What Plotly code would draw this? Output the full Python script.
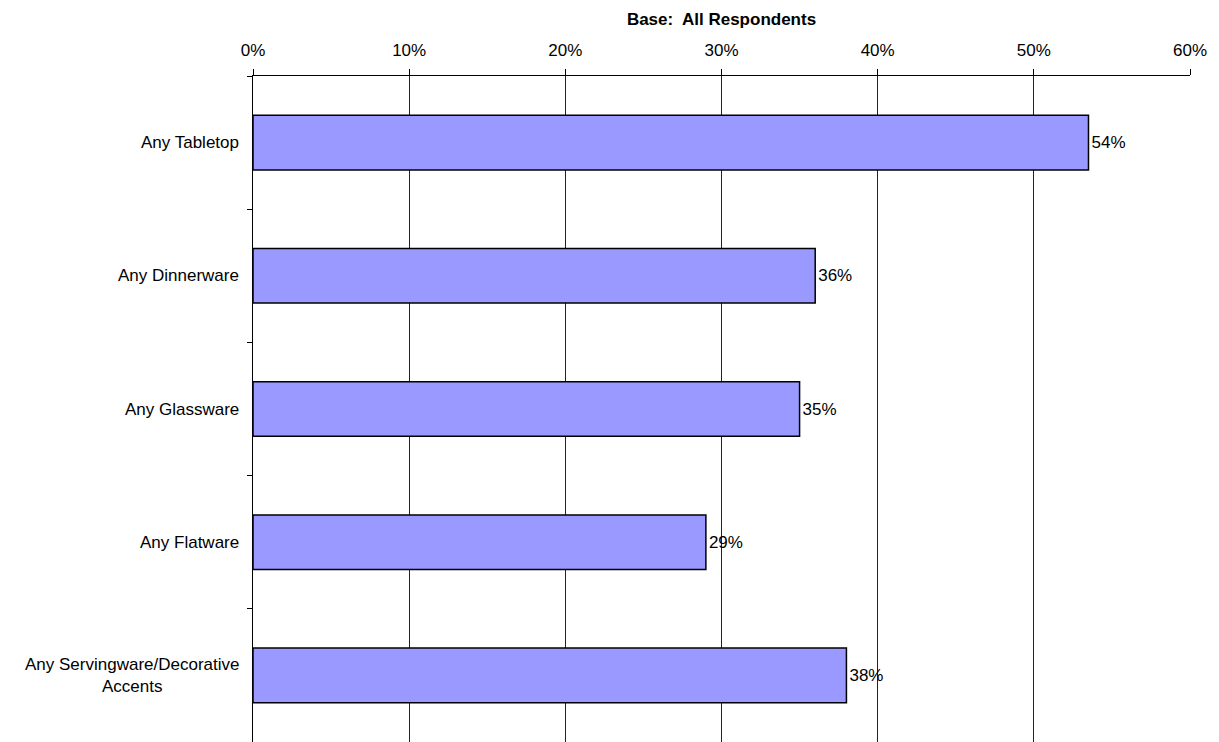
import plotly.graph_objects as go

categories = ["Any Tabletop", "Any Dinnerware", "Any Glassware", "Any Flatware",
              "Any Servingware/Decorative<br>Accents"]
values = [53.5, 36, 35, 29, 38]
labels = ["54%", "36%", "35%", "29%", "38%"]
tick_vals = [0, 10, 20, 30, 40, 50, 60]
tick_text = ["0%", "10%", "20%", "30%", "40%", "50%", "60%"]

FONT = "Liberation Sans, Arial"
FS = 17

fig = go.Figure(go.Bar(
    x=values, y=categories, orientation="h",
    marker=dict(color="#9999FF", line=dict(color="#000000", width=1.5)),
    width=0.41,
    text=labels, textposition="outside", cliponaxis=False,
    textfont=dict(family=FONT, size=FS, color="#000"),
))

# category labels as centred multi-line annotations beside the axis
for c in categories:
    fig.add_annotation(x=0, xref="paper", y=c, yref="y", text=c, showarrow=False,
                       xanchor="right", yanchor="middle", align="center", xshift=-12,
                       font=dict(family=FONT, size=FS, color="#000"))

# page body has an 8px default margin, so the figure is offset by 8px
fig.update_layout(
    width=1211, height=734,
    margin=dict(l=245, r=29, t=68, b=0),
    paper_bgcolor="white", plot_bgcolor="white",
    showlegend=False,
    font=dict(family=FONT, size=FS, color="#000"),
    title=dict(text="<b>Base:&nbsp; All Respondents</b>", x=0.5, xref="paper", xanchor="center",
               y=1 - 11 / 734, yanchor="middle",
               font=dict(family=FONT, size=FS, color="#000")),
    xaxis=dict(side="top", range=[0, 60], tickvals=tick_vals, ticktext=tick_text,
               showgrid=True, gridcolor="#222", gridwidth=1,
               showline=True, linecolor="#000", linewidth=1,
               ticks="outside", ticklen=6, tickcolor="#000", ticklabelstandoff=6,
               zeroline=False, fixedrange=True,
               tickfont=dict(family=FONT, size=FS, color="#000")),
    yaxis=dict(autorange="reversed", showline=True, linecolor="#000", linewidth=1,
               ticks="outside", ticklen=5, tickcolor="#000", tickson="boundaries",
               showticklabels=False, showgrid=False, fixedrange=True),
    bargap=0.59,
)

fig.write_html("out.html")
